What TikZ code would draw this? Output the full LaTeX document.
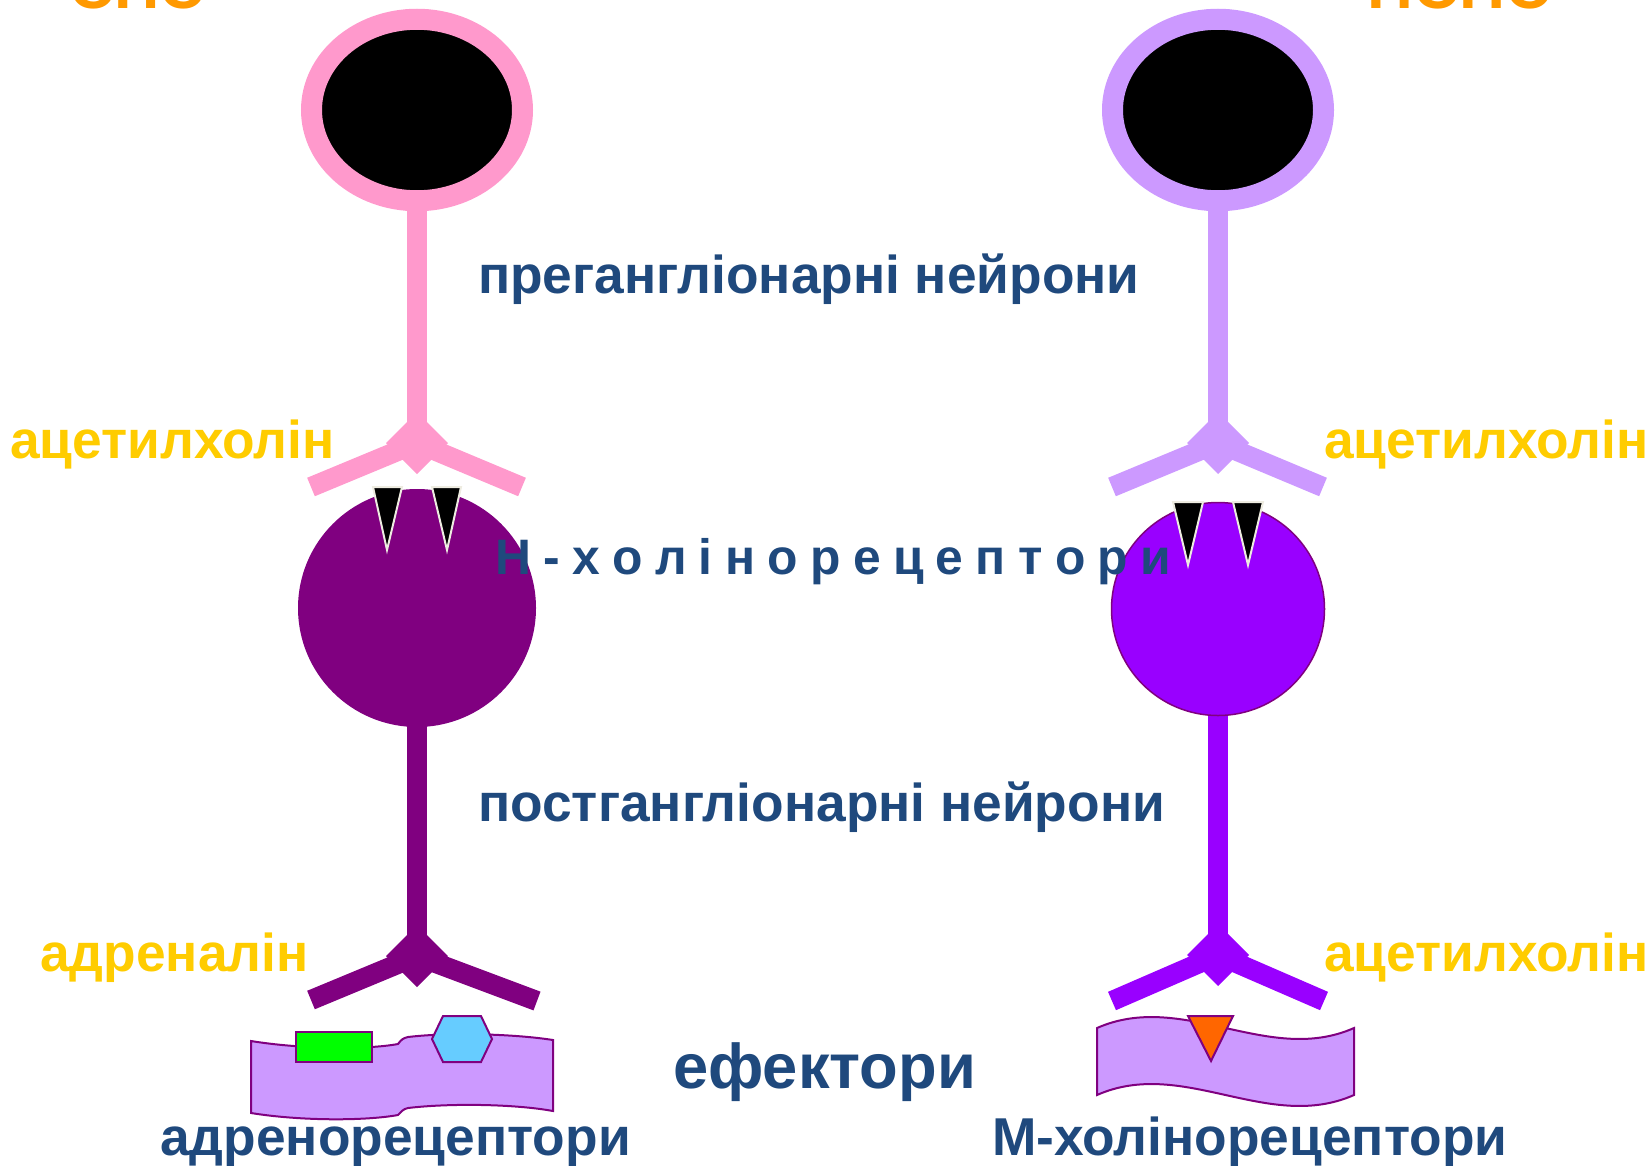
\documentclass[tikz,border=0pt]{standalone}
\usepackage{fontspec}
\setmainfont{Liberation Sans}
\definecolor{navy}{HTML}{1F497D}
\definecolor{gold}{HTML}{FFCC00}
\definecolor{amber}{HTML}{FF9900}
\definecolor{rose}{HTML}{FF99CC}
\definecolor{lilac}{HTML}{CC99FF}
\definecolor{plum}{HTML}{800080}
\definecolor{violet}{HTML}{9900FF}
\definecolor{cream}{HTML}{EEECE1}
\definecolor{lime}{HTML}{00FF00}
\definecolor{sky}{HTML}{66CCFF}
\definecolor{tangerine}{HTML}{FF6600}
\newcommand\gp{\kern12.3bp}
\begin{document}
\begin{tikzpicture}[x=1bp,y=-1bp,
  lbl/.style={inner sep=0pt, anchor=base west, font=\fontsize{53.5}{60}\selectfont\bfseries},
  navytext/.style={lbl, text=navy},
  goldtext/.style={lbl, text=gold},
  axon/.style={line width=20bp, line cap=butt},
  receptor/.style={fill=black, draw=cream, line width=2bp, line join=miter},
  effector/.style={fill=lilac, draw=plum, line width=2bp},
  site/.style={draw=plum, line width=2bp}]
\useasboundingbox (0,0) rectangle (1651,1165);

% ---------- named points of the two pathways ----------
\coordinate (Lpre)  at (417,110);  \coordinate (Rpre)  at (1218,110);
\coordinate (Ljun1) at (417,443);  \coordinate (Rjun1) at (1218,443);
\coordinate (Lb1)   at (311,487);  \coordinate (Lb2)   at (522,487);
\coordinate (Rb1)   at (1112,487); \coordinate (Rb2)   at (1323,487);
\coordinate (Lgang) at (417,608);  \coordinate (Rgang) at (1218,609);
\coordinate (Ljun2) at (417,956);  \coordinate (Rjun2) at (1218,955);
\coordinate (Lc1)   at (311,1000); \coordinate (Lc2)   at (537,1001);
\coordinate (Rc1)   at (1112,1001);\coordinate (Rc2)   at (1324,1001);

% ---------- preganglionic neurons ----------
\draw[axon, rose]  (Lpre) -- (Ljun1);
\draw[axon, rose]  (Ljun1) -- (Lb1);
\draw[axon, rose]  (Ljun1) -- (Lb2);
\fill[rose] (Ljun1) ++(0,-31) -- ++(31,31) -- ++(-31,31) -- ++(-31,-31) -- cycle;
\filldraw[fill=black, draw=rose, line width=21bp] (Lpre) ellipse [x radius=105.5bp, y radius=90.75bp];

\draw[axon, lilac] (Rpre) -- (Rjun1);
\draw[axon, lilac] (Rjun1) -- (Rb1);
\draw[axon, lilac] (Rjun1) -- (Rb2);
\fill[lilac] (Rjun1) ++(0,-31) -- ++(31,31) -- ++(-31,31) -- ++(-31,-31) -- cycle;
\filldraw[fill=black, draw=lilac, line width=21bp] (Rpre) ellipse [x radius=105.5bp, y radius=90.75bp];

% ---------- postganglionic neurons ----------
\draw[axon, plum]  (Lgang) -- (Ljun2);
\draw[axon, plum]  (Ljun2) -- (Lc1);
\draw[axon, plum]  (Ljun2) -- (Lc2);
\fill[plum] (Ljun2) ++(0,-31) -- ++(31,31) -- ++(-31,31) -- ++(-31,-31) -- cycle;
\fill[plum] (Lgang) circle [radius=119bp];

\draw[axon, violet] (Rgang) -- (Rjun2);
\draw[axon, violet] (Rjun2) -- (Rc1);
\draw[axon, violet] (Rjun2) -- (Rc2);
\fill[violet] (Rjun2) ++(0,-31) -- ++(31,31) -- ++(-31,31) -- ++(-31,-31) -- cycle;
\filldraw[fill=violet, draw=plum, line width=1.5bp] (Rgang) circle [radius=106.5bp];

% ---------- N-cholinoreceptors on the ganglion cells ----------
\filldraw[receptor] (373,487) -- (402,487) -- (387,550) -- cycle;
\filldraw[receptor] (432,487) -- (461,487) -- (447,550) -- cycle;
\filldraw[receptor] (1173,502) -- (1203,502) -- (1188,565) -- cycle;
\filldraw[receptor] (1233,502) -- (1263,502) -- (1248,565) -- cycle;

% ---------- effectors ----------
\filldraw[effector] (251,1041) .. controls (300,1049) and (365,1050) .. (398,1044)
  .. controls (401,1040) and (403,1038) .. (408,1037)
  .. controls (450,1032) and (515,1034) .. (553,1040)
  -- (553,1111)
  .. controls (515,1104) and (450,1103) .. (408,1108)
  .. controls (403,1109) and (401,1112) .. (398,1115)
  .. controls (365,1121) and (300,1121) .. (251,1113) -- cycle;
\filldraw[site, fill=lime] (296,1032) rectangle (372,1062);
\filldraw[site, fill=sky] (432,1039) -- (443,1016) -- (481,1016) -- (492,1039)
  -- (481,1062) -- (443,1062) -- cycle;

\filldraw[effector] (1097,1028) .. controls (1183,990) and (1268,1066) .. (1354,1028)
  -- (1354,1095) .. controls (1268,1133) and (1183,1057) .. (1097,1095) -- cycle;
\filldraw[site, fill=tangerine] (1188,1016) -- (1233,1016) -- (1211,1061) -- cycle;

% ---------- labels ----------
\node[lbl, text=amber, font=\fontsize{63}{70}\selectfont\bfseries] (sns) at (69,8) {СНС};
\node[lbl, text=amber, font=\fontsize{64}{70}\selectfont\bfseries] (psns) at (1367,8) {ПСНС};

\node[navytext] (pre) at (478,293) {прегангліонарні нейрони};
\node[navytext] (post) at (478,821) {постгангліонарні нейрони};
\node[navytext, font=\fontsize{50}{56}\selectfont\bfseries] (nrec) at (495,574)
  {Н\gp-\gp х\gp о\gp л\gp і\gp н\gp о\gp р\gp е\gp ц\gp е\gp п\gp т\gp о\gp р\gp и};

\node[goldtext] (ach1) at (10,458) {ацетилхолін};
\node[goldtext] (ach2) at (1324,458) {ацетилхолін};
\node[goldtext] (adr) at (40,971) {адреналін};
\node[goldtext] (ach3) at (1324,971) {ацетилхолін};

\node[navytext, font=\fontsize{63.5}{70}\selectfont\bfseries] (eff) at (673,1088) {ефектори};
\node[navytext] (arec) at (160,1155) {адренорецептори};
\node[navytext] (mrec) at (992,1155) {М-холінорецептори};
\end{tikzpicture}
\end{document}
